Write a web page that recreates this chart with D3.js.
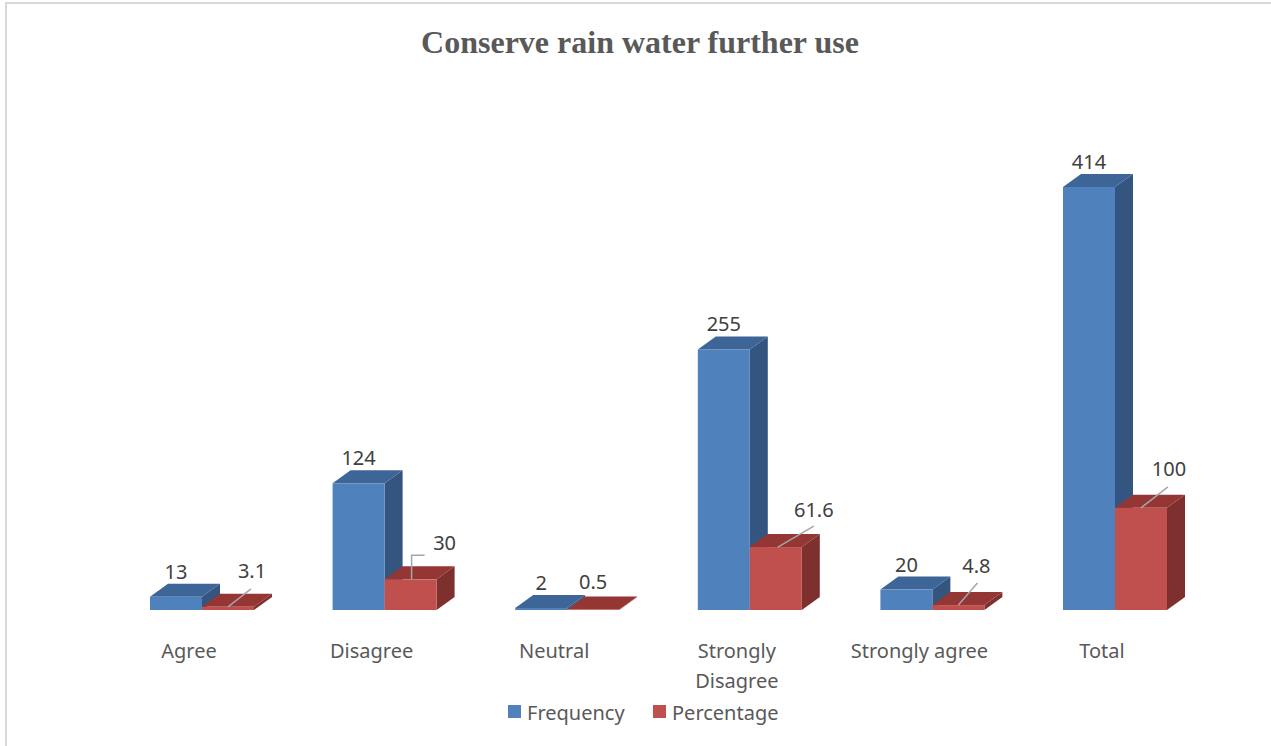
<!DOCTYPE html>
<html>
<head>
<meta charset="utf-8">
<script src="https://cdn.jsdelivr.net/npm/d3@7"></script>
<style>
  html, body { margin: 0; padding: 0; background: #ffffff; }
  svg { display: block; }
</style>
</head>
<body>
<svg id="chart" width="1271" height="746"></svg>
<script>
// Survey responses: "Conserve rain water further use"
const categories = ["Agree", "Disagree", "Neutral", "Strongly Disagree", "Strongly agree", "Total"];
const categoryLines = [["Agree"], ["Disagree"], ["Neutral"], ["Strongly", "Disagree"], ["Strongly agree"], ["Total"]];
const seriesNames = ["Frequency", "Percentage"];
const frequency = [13, 124, 2, 255, 20, 414];
const percentage = [3.1, 30, 0.5, 61.6, 4.8, 100];

// Label placement for the percentage values (offset from the bar's front-top centre)
const pctLabelOffset = [[24, -29], [34, -29], [0, -20], [38, -30], [18, -32], [28, -32]];
const pctLeader = [
  [[0, 0], [23, -18]],
  [[1, 0], [1, -24], [14, -24]],
  null,
  [[2, 0], [38, -21]],
  [[0, 0], [19, -22]],
  [[0, 0], [27, -21]]
];

const colors = {
  Frequency: { front: "#4f81bd", top: "#3d6597", side: "#34557f" },
  Percentage: { front: "#c0504d", top: "#943634", side: "#7d302e" }
};

const svg = d3.select("#chart");
const W = 1271, H = 746;
const baseY = 610;
const depthX = 18, depthY = -13;
const groupWidth = 104;

// Chart frame
svg.append("path")
  .attr("d", `M6,${H} L6,3 L${W},3`)
  .attr("fill", "none")
  .attr("stroke", "#d9d9d9")
  .attr("stroke-width", 2);

// Title
svg.append("text")
  .attr("x", 640).attr("y", 53)
  .attr("text-anchor", "middle")
  .attr("font-family", "'Liberation Serif', 'Times New Roman', serif")
  .attr("font-weight", "bold")
  .attr("font-size", 32)
  .attr("fill", "#595959")
  .text("Conserve rain water further use");

const x = d3.scaleBand().domain(categories).range([110.7, 1206.3]).padding(0);
const xs = d3.scaleBand().domain(seriesNames).range([0, groupWidth]).padding(0);
const y = d3.scaleLinear().domain([0, 450]).range([baseY, baseY - 450 * 1.0217]);

const groupOffset = (x.bandwidth() - groupWidth) / 2;
const seriesValues = { Frequency: frequency, Percentage: percentage };

const bars = svg.append("g");
categories.forEach((cat, i) => {
  seriesNames.forEach(s => {
    const v = seriesValues[s][i];
    const x0 = x(cat) + groupOffset + xs(s);
    const w = xs.bandwidth();
    const yt = y(v);
    const c = colors[s];
    const g = bars.append("g");
    // right side face
    g.append("polygon")
      .attr("points", [[x0 + w, yt], [x0 + w + depthX, yt + depthY], [x0 + w + depthX, baseY + depthY], [x0 + w, baseY]].join(" "))
      .attr("fill", c.side);
    // top face
    g.append("polygon")
      .attr("points", [[x0, yt], [x0 + depthX, yt + depthY], [x0 + w + depthX, yt + depthY], [x0 + w, yt]].join(" "))
      .attr("fill", c.top);
    // front face
    g.append("rect")
      .attr("x", x0).attr("y", yt)
      .attr("width", w).attr("height", baseY - yt)
      .attr("fill", c.front);
  });
});

const labelFont = "'Noto Sans', 'Open Sans', sans-serif";

// Value labels
const labels = svg.append("g")
  .attr("font-family", labelFont)
  .attr("font-size", 20)
  .attr("fill", "#404040");

categories.forEach((cat, i) => {
  const cx = x(cat) + groupOffset + xs("Frequency") + xs.bandwidth() / 2;
  labels.append("text")
    .attr("x", cx).attr("y", y(frequency[i]) - 18)
    .attr("text-anchor", "middle")
    .text(frequency[i]);
});

// Percentage labels with leader lines
categories.forEach((cat, i) => {
  const cx = x(cat) + groupOffset + xs("Percentage") + xs.bandwidth() / 2;
  const ty = y(percentage[i]);
  const leader = pctLeader[i];
  if (leader) {
    svg.append("polyline")
      .attr("points", leader.map(p => [cx + p[0], ty + p[1]]).join(" "))
      .attr("fill", "none")
      .attr("stroke", "#a6a6a6")
      .attr("stroke-width", 1.5);
  }
  labels.append("text")
    .attr("x", cx + pctLabelOffset[i][0]).attr("y", ty + pctLabelOffset[i][1])
    .attr("text-anchor", "middle")
    .text(percentage[i]);
});

// Category axis labels
const axisG = svg.append("g")
  .attr("font-family", labelFont)
  .attr("font-size", 20)
  .attr("fill", "#595959");
categories.forEach((cat, i) => {
  const cx = x(cat) + x.bandwidth() / 2 - 13;
  const t = axisG.append("text").attr("text-anchor", "middle");
  categoryLines[i].forEach((line, j) => {
    t.append("tspan").attr("x", cx).attr("y", 658 + j * 30).text(line);
  });
});

// Legend
const legend = svg.append("g")
  .attr("font-family", labelFont)
  .attr("font-size", 20)
  .attr("fill", "#595959");
const legendX = [508, 653];
seriesNames.forEach((s, i) => {
  legend.append("rect")
    .attr("x", legendX[i]).attr("y", 705)
    .attr("width", 13).attr("height", 13)
    .attr("fill", colors[s].front);
  legend.append("text")
    .attr("x", legendX[i] + 19).attr("y", 720)
    .text(s);
});
</script>
</body>
</html>
